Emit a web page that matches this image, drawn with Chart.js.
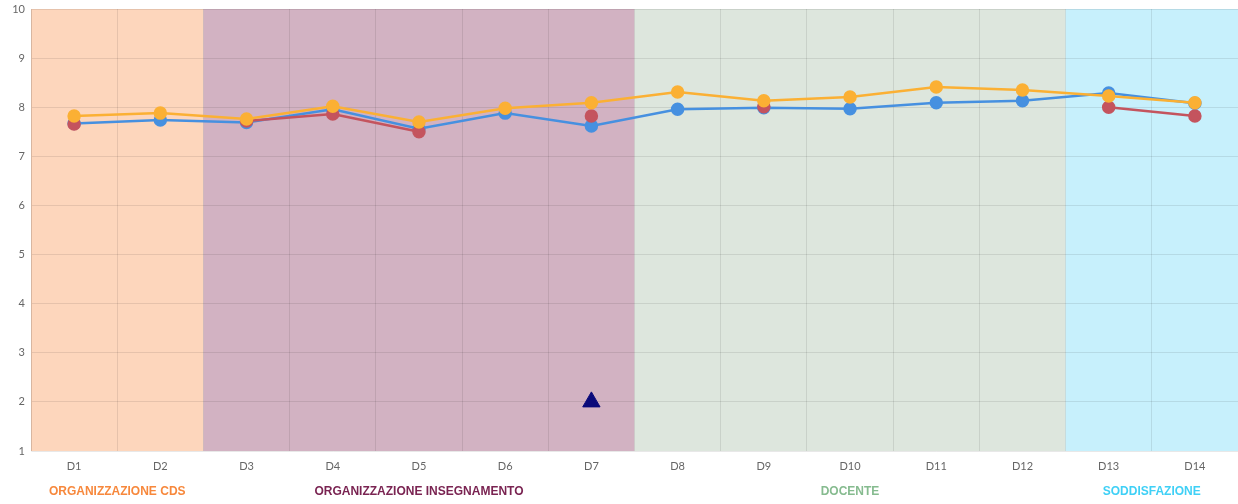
<!DOCTYPE html>
<html>
<head>
<meta charset="utf-8">
<script src="https://cdn.jsdelivr.net/npm/chart.js@4"></script>
<style>
  html, body { margin: 0; padding: 0; background: #fff; }
  #wrap { width: 1238px; height: 504px; }
</style>
</head>
<body>
<div id="wrap"><canvas id="chart" width="1238" height="504"></canvas></div>
<script>
// categories
const labels = ['D1', 'D2', 'D3', 'D4', 'D5', 'D6', 'D7', 'D8', 'D9', 'D10', 'D11', 'D12', 'D13', 'D14'];

// series
const yellowValues = [7.82, 7.88, 7.76, 8.02, 7.70, 7.98, 8.09, 8.31, 8.13, 8.21, 8.41, 8.35, 8.23, 8.09];
const redValues    = [7.66, null, 7.72, 7.86, 7.50, null, 7.82, null, 8.01, null, null, null, 8.00, 7.82];
const blueValues   = [7.67, 7.74, 7.69, 7.96, 7.56, 7.88, 7.62, 7.96, 7.99, 7.97, 8.09, 8.13, 8.29, 8.08];
const markerValues = [null, null, null, null, null, null, 2, null, null, null, null, null, null, null];

// groups of categories
const groupNames  = ['ORGANIZZAZIONE CDS', 'ORGANIZZAZIONE INSEGNAMENTO', 'DOCENTE', 'SODDISFAZIONE'];
const groupStart  = [0, 2, 7, 12];
const groupEnd    = [1, 6, 11, 13];
const groupFills  = ['#fdd6bc', '#d2b2c2', '#dde6dd', '#c7f0fc'];
const groupColors = ['#f7883c', '#7a2452', '#86bb8f', '#3fd0f6'];

const yMin = 1;
const yMax = 10;

// background bands under the grid, group titles under the axis
const bandsPlugin = {
    id: 'bands',
    beforeDraw(chart) {
        const { ctx, chartArea, scales } = chart;
        const x = scales.x;
        const half = (x.getPixelForValue(1) - x.getPixelForValue(0)) / 2;
        ctx.save();
        groupNames.forEach((name, i) => {
            const left = x.getPixelForValue(groupStart[i]) - half;
            const right = x.getPixelForValue(groupEnd[i]) + half;
            ctx.fillStyle = groupFills[i];
            ctx.fillRect(left, chartArea.top, right - left, chartArea.bottom - chartArea.top);
        });
        ctx.restore();
    },
    afterDraw(chart) {
        const { ctx, chartArea, scales } = chart;
        const x = scales.x;
        ctx.save();
        ctx.font = 'bold 12px "Liberation Sans", Arial, sans-serif';
        ctx.textAlign = 'center';
        ctx.textBaseline = 'middle';
        groupNames.forEach((name, i) => {
            const mid = (x.getPixelForValue(groupStart[i]) + x.getPixelForValue(groupEnd[i])) / 2;
            ctx.fillStyle = groupColors[i];
            ctx.fillText(name, mid, chartArea.bottom + 41);
        });
        ctx.restore();
    }
};

const lineStyle = (color) => ({
    borderColor: color,
    backgroundColor: color,
    pointBackgroundColor: color,
    pointBorderColor: color,
    borderWidth: 2.5,
    pointRadius: 5.5,
    pointHoverRadius: 5.5,
    tension: 0,
    spanGaps: false,
    fill: false
});

new Chart(document.getElementById('chart').getContext('2d'), {
    type: 'line',
    data: {
        labels: labels,
        datasets: [
            {
                label: 'Marker',
                data: markerValues,
                showLine: false,
                pointStyle: 'triangle',
                pointRadius: 10,
                pointBackgroundColor: '#0a0a7a',
                pointBorderColor: '#0a0a7a',
                borderColor: '#0a0a7a'
            },
            Object.assign({ label: 'Serie 3', data: yellowValues }, lineStyle('#fbb034')),
            Object.assign({ label: 'Serie 2', data: redValues }, lineStyle('#c4545e')),
            Object.assign({ label: 'Serie 1', data: blueValues }, lineStyle('#4690e0'))
        ]
    },
    options: {
        responsive: false,
        animation: false,
        layout: { autoPadding: false, padding: { top: 9, right: 0, left: 0, bottom: 0 } },
        plugins: {
            legend: { display: false },
            tooltip: { enabled: false }
        },
        scales: {
            x: {
                offset: true,
                grid: {
                    offset: true,
                    color: 'rgba(0,0,0,0.09)',
                    drawTicks: false
                },
                border: { display: false },
                ticks: {
                    color: '#666',
                    font: { family: 'Lato', size: 11 },
                    padding: 9,
                    maxRotation: 0
                },
                afterFit(scale) {
                    scale.height = 53;
                    scale.paddingLeft = 0;
                    scale.paddingRight = 0;
                }
            },
            y: {
                min: yMin,
                max: yMax,
                grid: {
                    color: 'rgba(0,0,0,0.09)',
                    drawTicks: false
                },
                border: { color: 'rgba(0,0,0,0.06)' },
                ticks: {
                    stepSize: 1,
                    color: '#666',
                    font: { family: 'Lato', size: 11 },
                    padding: 6
                },
                afterFit(scale) {
                    scale.width = 31;
                    scale.paddingTop = 0;
                    scale.paddingBottom = 0;
                }
            }
        }
    },
    plugins: [bandsPlugin]
});
</script>
</body>
</html>
